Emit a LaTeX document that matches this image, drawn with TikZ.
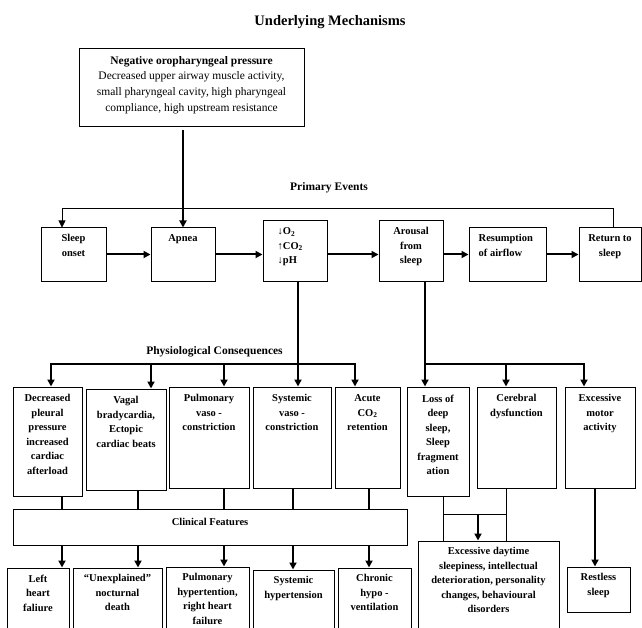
\documentclass[tikz,border=0pt]{standalone}
\usepackage{fontspec}
\setmainfont{Liberation Serif}
\usetikzlibrary{arrows.meta,positioning}
\tikzset{
  box/.style={draw, line width=1pt, inner sep=0pt},
  txt/.style={font=\fontsize{10.5}{14.5}\selectfont\bfseries, align=center, inner sep=0pt},
  head/.style={font=\fontsize{11.5}{14}\selectfont\bfseries, inner sep=0pt, anchor=base},
  conn/.style={line width=2pt, line cap=rect},
  arr/.style={line width=2pt, -{Triangle[length=7pt,width=7pt]}},
  link/.style={line width=0.8pt},
  linkarr/.style={line width=0.8pt, -{Triangle[length=7pt,width=7pt]}},
}

\begin{document}
\begin{tikzpicture}[x=1pt,y=-1pt]
\clip (0,0) rectangle (642,628);
% headings
\node[head, font=\fontsize{14.5}{16}\selectfont\bfseries] (mech) at (330,26) {Underlying Mechanisms};
\node[head] (primary) at (329,191) {Primary Events};
\node[head] (physio) at (214.5,354) {Physiological Consequences};

% underlying mechanism
\node[box, minimum width=225pt, minimum height=78pt] (neg) at (191.5,88) {};
\node[below=7.5pt of neg.north, align=center, inner sep=0pt, font=\fontsize{11.5}{15.7}\selectfont] (neg-t) {\textbf{Negative oropharyngeal pressure}\\Decreased upper airway muscle activity,\\small pharyngeal cavity, high pharyngeal\\compliance, high upstream resistance};

% primary events
\node[box, minimum width=65pt, minimum height=53pt] (onset) at (73.5,254.5) {};
\node[txt, below=7pt of onset.north] (onset-t) {Sleep\\onset};
\node[box, minimum width=64pt, minimum height=53pt] (apnea) at (183,254.5) {};
\node[txt, below=7pt of apnea.north] (apnea-t) {Apnea};
\node[box, minimum width=64pt, minimum height=60pt] (gas) at (295,251) {};
\node[txt, align=left, below right=7pt and 15pt of gas.north west] (gas-t) {↓O\textsubscript{2}\\↑CO\textsubscript{2}\\↓pH};
\node[box, minimum width=64pt, minimum height=60pt] (arousal) at (411,251) {};
\node[txt, below=7pt of arousal.north] (arousal-t) {Arousal\\from\\sleep};
\node[box, minimum width=77pt, minimum height=53pt] (resume) at (507.5,254.5) {};
\node[txt, align=left, below right=7pt and 10pt of resume.north west] (resume-t) {Resumption\\of airflow};
\node[box, minimum width=62pt, minimum height=53pt] (back) at (610,254.5) {};
\node[txt, below=7pt of back.north] (back-t) {Return to\\sleep};

% physiological consequences
\node[box, minimum width=69pt, minimum height=109pt] (pleural) at (47.5,441.5) {};
\node[txt, below=8pt of pleural.north] (pleural-t) {Decreased\\pleural\\pressure\\increased\\cardiac\\afterload};
\node[box, minimum width=80pt, minimum height=101pt] (vagal) at (126,439.5) {};
\node[txt, below=8pt of vagal.north] (vagal-t) {Vagal\\bradycardia,\\Ectopic\\cardiac beats};
\node[box, minimum width=80pt, minimum height=101pt] (pvaso) at (209,437.5) {};
\node[txt, below=8pt of pvaso.north] (pvaso-t) {Pulmonary\\vaso -\\constriction};
\node[box, minimum width=78pt, minimum height=101pt] (svaso) at (292,437.5) {};
\node[txt, below=8pt of svaso.north] (svaso-t) {Systemic\\vaso -\\constriction};
\node[box, minimum width=65pt, minimum height=101pt] (acute) at (367.5,437.5) {};
\node[txt, below=8pt of acute.north] (acute-t) {Acute\\CO\textsubscript{2}\\retention};
\node[box, minimum width=62pt, minimum height=109pt] (deep) at (438,441.5) {};
\node[txt, below=8pt of deep.north] (deep-t) {Loss of\\deep\\sleep,\\Sleep\\fragment\\ation};
\node[box, minimum width=79pt, minimum height=101pt] (cereb) at (516.5,437.5) {};
\node[txt, below=8pt of cereb.north] (cereb-t) {Cerebral\\dysfunction};
\node[box, minimum width=70pt, minimum height=101pt] (motor) at (600,437.5) {};
\node[txt, below=8pt of motor.north] (motor-t) {Excessive\\motor\\activity};

% clinical features
\node[box, minimum width=394pt, minimum height=36pt] (clin) at (210,527) {};
\node[txt, anchor=base] (clin-t) at (210,525) {Clinical Features};
\node[box, minimum width=62pt, minimum height=72pt] (lhf) at (38,604) {};
\node[txt, below=7pt of lhf.north] (lhf-t) {Left\\heart\\faliure};
\node[box, minimum width=89pt, minimum height=72pt] (death) at (117.5,604) {};
\node[txt, below=7pt of death.north] (death-t) {“Unexplained”\\nocturnal\\death};
\node[box, minimum width=83pt, minimum height=73pt] (phyp) at (207.5,603.5) {};
\node[txt, below=7pt of phyp.north] (phyp-t) {Pulmonary\\hypertention,\\right heart\\failure};
\node[box, minimum width=81pt, minimum height=70pt] (shyp) at (293.5,605) {};
\node[txt, below=7pt of shyp.north] (shyp-t) {Systemic\\hypertension};
\node[box, minimum width=73pt, minimum height=72pt] (hypo) at (374.5,604) {};
\node[txt, below=7pt of hypo.north] (hypo-t) {Chronic\\hypo -\\ventilation};
\node[box, minimum width=141pt, minimum height=99pt] (daytime) at (488.5,590.5) {};
\node[txt, below=7pt of daytime.north] (daytime-t) {Excessive daytime\\sleepiness, intellectual\\deterioration, personality\\changes, behavioural\\disorders};
\node[box, minimum width=63pt, minimum height=45pt] (restless) at (598.5,589.5) {};
\node[txt, below=7pt of restless.north] (restless-t) {Restless\\sleep};

% connectors, top part
\draw[arr, shorten <=3pt] (apnea.north |- neg.south) -- (apnea.north);
\coordinate (fbr) at (613,208);
\coordinate (fbl) at (62,208);
\draw[linkarr] (fbr |- back.north) -- (fbr) -- (fbl) -- (fbl |- onset.north);
\draw[arr] (onset.east) -- (apnea.west);
\draw[arr] (apnea.east) -- (apnea.east -| gas.west);
\draw[arr] (gas.east |- apnea.east) -- (arousal.west |- apnea.east);
\draw[arr] (arousal.east |- apnea.east) -- (resume.west);
\draw[arr] (resume.east) -- (back.west);

% to the consequences
\coordinate (c1) at (51,364);
\coordinate (c2) at (151,364);
\coordinate (c3) at (224,364);
\coordinate (c4) at (298,364);
\coordinate (c5) at (355,364);
\draw[conn] (c1) -- (c5);
\draw[arr] (c4 |- gas.south) -- (c4 |- svaso.north);
\draw[arr] (c1) -- (c1 |- pleural.north);
\draw[arr] (c2) -- (c2 |- vagal.north);
\draw[arr] (c3) -- (c3 |- pvaso.north);
\draw[arr] (c5) -- (c5 |- acute.north);
\coordinate (d1) at (425,364);
\coordinate (d2) at (506,364);
\coordinate (d3) at (584,364);
\draw[conn] (d1) -- (d3);
\draw[arr] (d1 |- arousal.south) -- (d1 |- deep.north);
\draw[arr] (d2) -- (d2 |- cereb.north);
\draw[arr] (d3) -- (d3 |- motor.north);

% through clinical features
\coordinate (k1) at (62,527);
\coordinate (k2) at (138,527);
\coordinate (k3) at (224,527);
\coordinate (k4) at (293,527);
\coordinate (k5) at (369,527);
\draw[conn] (k1 |- pleural.south) -- (k1 |- clin.north);
\draw[conn] (k2 |- vagal.south) -- (k2 |- clin.north);
\draw[conn] (k3 |- pvaso.south) -- (k3 |- clin.north);
\draw[conn] (k4 |- svaso.south) -- (k4 |- clin.north);
\draw[conn] (k5 |- acute.south) -- (k5 |- clin.north);
\draw[arr] (k1 |- clin.south) -- (k1 |- lhf.north);
\draw[arr] (k2 |- clin.south) -- (k2 |- death.north);
\draw[arr] (k3 |- clin.south) -- (k3 |- phyp.north);
\draw[arr] (k4 |- clin.south) -- (k4 |- shyp.north);
\draw[arr] (k5 |- clin.south) -- (k5 |- hypo.north);

% right side
\coordinate (e1) at (443,514);
\coordinate (e2) at (506,514);
\coordinate (e3) at (478,514);
\draw[link] (e1 |- deep.south) -- (e1 |- daytime.north);
\draw[link] (e2 |- cereb.south) -- (e2 |- daytime.north);
\draw[link] (e1) -- (e2);
\draw[arr] (e3) -- (e3 |- daytime.north);
\coordinate (r1) at (595,500);
\draw[arr] (r1 |- motor.south) -- (r1 |- restless.north);
\end{tikzpicture}
\end{document}
